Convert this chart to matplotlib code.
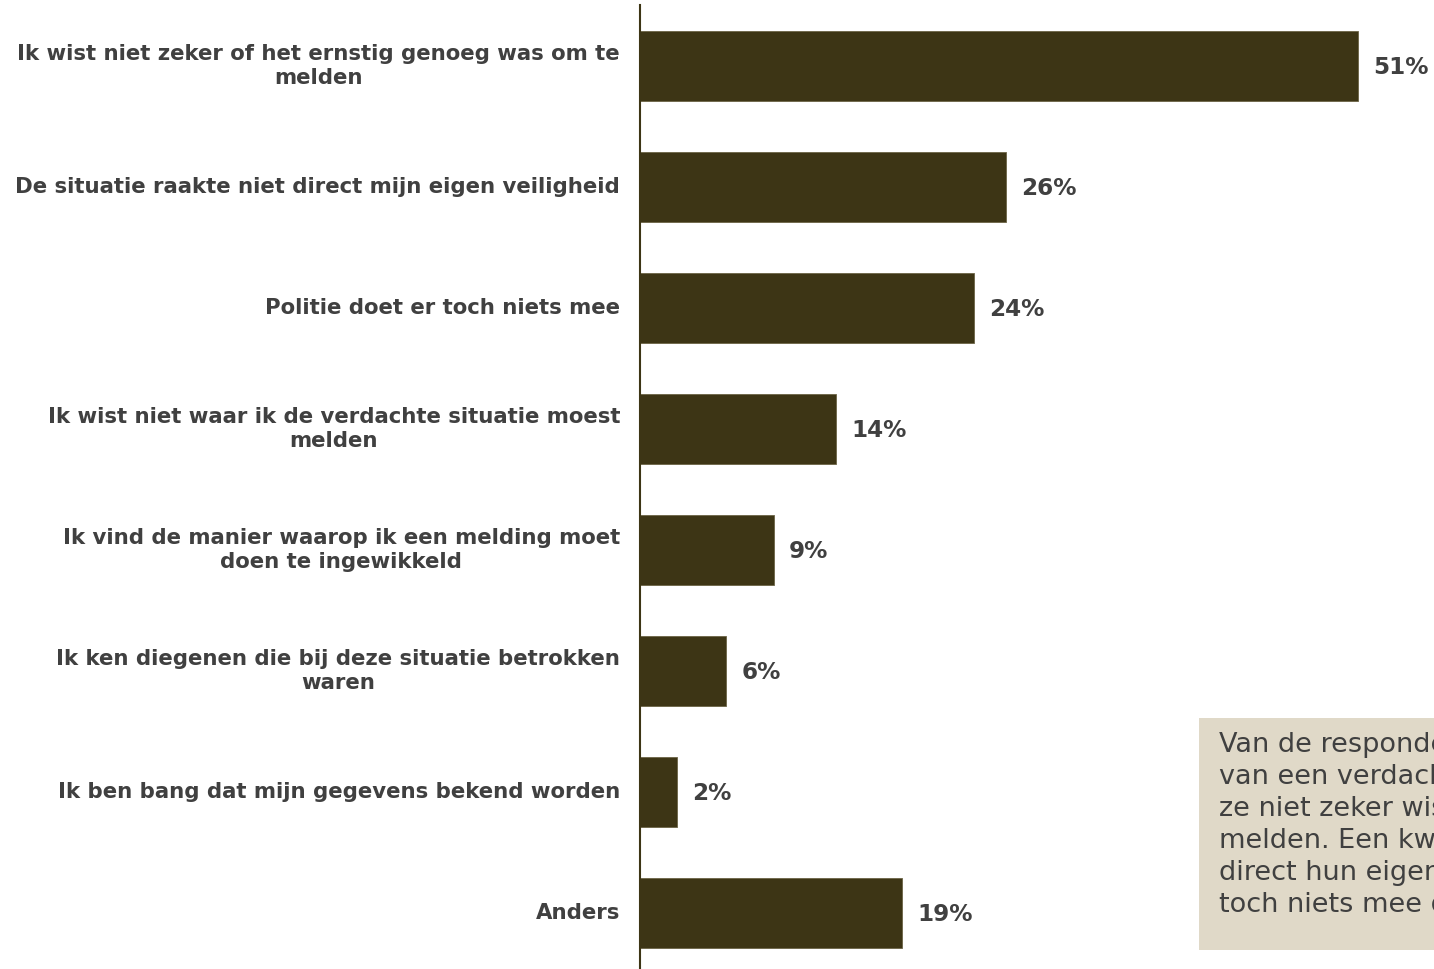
import numpy as np
import matplotlib.pyplot as plt
from matplotlib.patches import Rectangle

categories = [
    "Ik wist niet zeker of het ernstig genoeg was om te\nmelden",
    "De situatie raakte niet direct mijn eigen veiligheid",
    "Politie doet er toch niets mee",
    "Ik wist niet waar ik de verdachte situatie moest\nmelden",
    "Ik vind de manier waarop ik een melding moet\ndoen te ingewikkeld",
    "Ik ken diegenen die bij deze situatie betrokken\nwaren",
    "Ik ben bang dat mijn gegevens bekend worden",
    "Anders",
]
values = [51.0, 26.0, 23.7, 13.9, 9.5, 6.1, 2.6, 18.6]
value_labels = ["51%", "26%", "24%", "14%", "9%", "6%", "2%", "19%"]

note_lines = [
    "Van de respondenten die afzagen van het melden",
    "van een verdachte situatie, geeft de helft aan dat",
    "ze niet zeker wisten of het ernstig genoeg was om te",
    "melden. Een kwart geeft aan dat de situatie niet",
    "direct hun eigen veiligheid raakte of dat de politie er",
    "toch niets mee doet.",
]

bar_color = "#3d3515"
text_color = "#404040"

fig = plt.figure(figsize=(14.34, 9.69), dpi=100)
ax = fig.add_axes([640 / 1434, 0, 1 - 640 / 1434, 964 / 969])

y = np.arange(len(values))
ax.barh(y, values, height=0.58, color=bar_color, edgecolor="#6b6445", linewidth=0.6)
ax.set_ylim(len(values) - 1 + 0.463, -0.504)
ax.set_xlim(0, 794 / 14.08)

for yi, v, lab in zip(y, values, value_labels):
    ax.text(v + 1.1, yi + 0.01, lab, va="center", ha="left", fontsize=16.7,
            fontweight="bold", color=text_color)

for yi, lab in zip(y, categories):
    ax.text(-1.42, yi, lab, va="center", ha="right", multialignment="center",
            fontsize=15.35, fontweight="bold", color=text_color, linespacing=1.3)

for s in ["top", "right", "bottom"]:
    ax.spines[s].set_visible(False)
ax.spines["left"].set_color(bar_color)
ax.spines["left"].set_linewidth(1.5)
ax.set_xticks([])
ax.set_yticks([])

# note box, cut off at the right edge
fig.patches.append(Rectangle((1199 / 1434, 1 - 950 / 969), 0.3, 232 / 969,
                             transform=fig.transFigure, facecolor="#e0d9c8",
                             edgecolor="none", zorder=0))
fig.text(1219 / 1434, 1 - 732 / 969, "\n".join(note_lines), ha="left", va="top",
         fontsize=19.5, color=text_color, linespacing=1.3)

fig.savefig("out.png", dpi=100)
